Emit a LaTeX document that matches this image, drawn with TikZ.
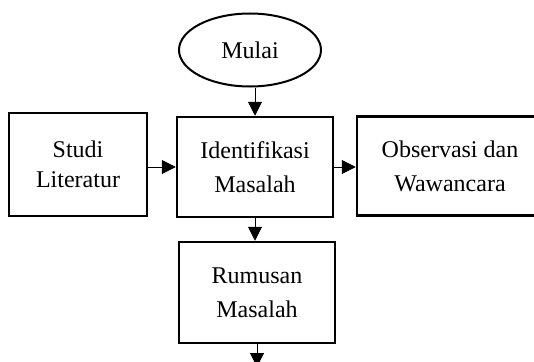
\documentclass[tikz,border=0pt]{standalone}
\usepackage{fontspec}
\setmainfont{Liberation Serif}
\usetikzlibrary{shapes.geometric,arrows.meta}
\begin{document}
\begin{tikzpicture}[x=1pt,y=-1pt,
  box/.style={draw,line width=2.5pt,rectangle,inner sep=0pt,align=center,font=\fontsize{24}{34}\selectfont},
  oval/.style={draw,line width=2pt,ellipse,inner sep=0pt,minimum width=142pt,minimum height=73pt,font=\fontsize{24}{34}\selectfont},
  arr/.style={line width=1pt,-{Triangle[length=14pt,width=14pt]}}]
\useasboundingbox (0,0) rectangle (534,361);
\node[oval] (mulai) at (250,50) {Mulai};
\node[box,minimum width=138pt,minimum height=103pt,font=\fontsize{24}{30}\selectfont] (studi) at (78,164.5) {Studi\\Literatur};
\node[box,minimum width=156pt,minimum height=100pt] (ident) at (255,167) {Identifikasi\\Masalah};
\node[box,minimum width=186pt,minimum height=99pt] (obs) at (450,166) {Observasi dan\\Wawancara};
\node[box,minimum width=156pt,minimum height=101pt] (rum) at (257,292.5) {Rumusan\\Masalah};
\coordinate (end) at (257,367);
\draw[arr] (ident.north |- mulai.south) -- (ident.north);
\draw[arr] (studi.east |- ident.center) -- (ident.west);
\draw[arr] (ident.east) -- (obs.west |- ident.east);
\draw[arr] (ident.south) -- (ident.south |- rum.north);
\draw[arr] (rum.south) -- (end);
\end{tikzpicture}
\end{document}
